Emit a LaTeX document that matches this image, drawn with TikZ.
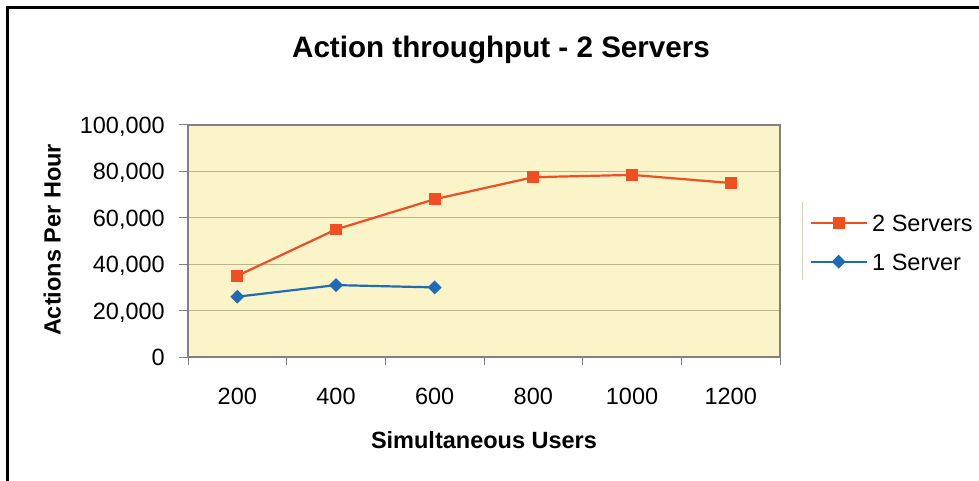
\documentclass[tikz,border=0pt]{standalone}
\usepackage{fontspec}
\setmainfont{Liberation Sans}
\usetikzlibrary{shapes.geometric}
\definecolor{plotbg}{RGB}{250,244,200}
\definecolor{gridc}{RGB}{192,180,138}
\definecolor{axisc}{RGB}{128,128,128}
\definecolor{redser}{RGB}{240,78,35}
\definecolor{blueser}{RGB}{31,107,181}
\tikzset{
  ticklbl/.style={inner sep=0pt, font=\fontsize{23.5}{28}\selectfont},
  axttl/.style={inner sep=0pt, font=\fontsize{23.5}{28}\selectfont\bfseries},
  gridln/.style={draw=gridc, line width=1.2pt},
  tickln/.style={draw=axisc, line width=1pt},
  redline/.style={draw=redser, line width=2.2pt},
  blueline/.style={draw=blueser, line width=2.2pt},
  sqmark/.style={rectangle, fill=redser, draw=none, minimum size=11.8pt, inner sep=0pt},
  dmmark/.style={diamond, fill=blueser, draw=none, minimum size=14pt, inner sep=0pt},
}
\begin{document}
\begin{tikzpicture}[x=1pt,y=-1pt]
\useasboundingbox (0,0) rectangle (979,481);
% outer frame
\draw[line width=2.2pt, black] (7.5,7.5) rectangle (995,495);
% title
\node[inner sep=0pt, anchor=base, font=\fontsize{29.6}{34}\selectfont\bfseries] (title) at (501,57.5) {Action throughput - 2 Servers};
% plot area
\fill[plotbg] (188,125) rectangle (780,357);
\foreach \yy/\nm in {171.4/a, 217.8/b, 264.2/c, 310.6/d} {
  \coordinate (gl\nm) at (188,\yy);
  \coordinate (gr\nm) at (780,\yy);
  \draw[gridln] (gl\nm) -- (gr\nm);
}
\coordinate (pa1) at (188,125);
\coordinate (pa2) at (780,125);
\coordinate (pa3) at (780,357);
\coordinate (pa4) at (188,357);
\draw[draw=axisc, line width=1.2pt] (pa1) -- (pa2) -- (pa3) -- (pa4) -- cycle;
% y ticks and labels
\foreach \yy/\lbl/\nm in {125/{100,000}/y5, 171.4/{80,000}/y4, 217.8/{60,000}/y3, 264.2/{40,000}/y2, 310.6/{20,000}/y1, 357/0/y0} {
  \coordinate (t\nm a) at (179,\yy);
  \coordinate (t\nm b) at (188,\yy);
  \draw[tickln] (t\nm a) -- (t\nm b);
  \node[ticklbl, anchor=base east] (l\nm) at (165,\yy+8.4) {\lbl};
}
% x ticks
\foreach \xx/\nm in {188/x0, 286.7/x1, 385.3/x2, 484/x3, 582.7/x4, 681.3/x5, 780/x6} {
  \coordinate (t\nm a) at (\xx,357);
  \coordinate (t\nm b) at (\xx,365);
  \draw[tickln] (t\nm a) -- (t\nm b);
}
% x labels
\foreach \xx/\lbl in {237.3/200, 336/400, 434.7/600, 533.3/800, 632/1000, 730.7/1200} {
  \node[ticklbl, anchor=base] (lx\lbl) at (\xx,404) {\lbl};
}
% axis titles
\node[axttl, anchor=base] (xtitle) at (484,448.5) {Simultaneous Users};
\node[axttl, anchor=base, rotate=90] (ytitle) at (60.5,240) {Actions Per Hour};
% data 2 servers
\coordinate (r1) at (237.3,275.8);
\coordinate (r2) at (336,229.4);
\coordinate (r3) at (434.7,199.2);
\coordinate (r4) at (533.3,177.2);
\coordinate (r5) at (632,174.9);
\coordinate (r6) at (730.7,183);
\draw[redline, line join=round] (r1) -- (r2) -- (r3) -- (r4) -- (r5) -- (r6);
\foreach \p in {r1,r2,r3,r4,r5,r6} { \node[sqmark] (m\p) at (\p) {}; }
% data 1 server
\coordinate (b1) at (237.3,296.7);
\coordinate (b2) at (336,285.1);
\coordinate (b3) at (434.7,287.4);
\draw[blueline, line join=round] (b1) -- (b2) -- (b3);
\foreach \p in {b1,b2,b3} { \node[dmmark] (m\p) at (\p) {}; }
% legend
\coordinate (lg1) at (802,202);
\coordinate (lg2) at (802,280);
\draw[draw=gridc!60!white, line width=1pt] (lg1) -- (lg2);
\coordinate (lr1) at (810.7,223.3);
\coordinate (lr2) at (866.7,223.3);
\draw[redline] (lr1) -- (lr2);
\node[sqmark] (lrm) at (838.7,223.3) {};
\node[ticklbl, anchor=base west] (lrt) at (872,223.3+8.4) {2 Servers};
\coordinate (lb1) at (810.7,261.7);
\coordinate (lb2) at (866.7,261.7);
\draw[blueline] (lb1) -- (lb2);
\node[dmmark] (lbm) at (838.7,261.7) {};
\node[ticklbl, anchor=base west] (lbt) at (872,261.7+8.4) {1 Server};
\end{tikzpicture}
\end{document}
